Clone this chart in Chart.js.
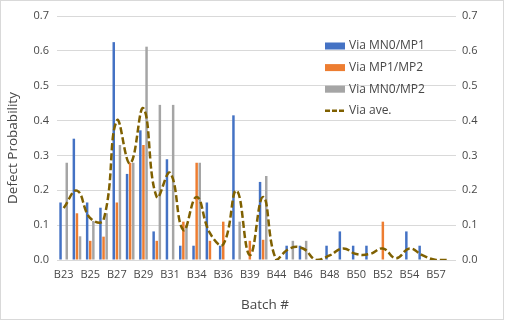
<!DOCTYPE html>
<html>
<head>
<meta charset="utf-8">
<script src="https://cdn.jsdelivr.net/npm/chart.js@4"></script>
<style>
  html, body { margin: 0; padding: 0; background: #fff; }
  #wrap { width: 505px; height: 322px; }
</style>
</head>
<body>
<div id="wrap"><canvas id="defect-chart" width="505" height="322"></canvas></div>
<script>
var batches = ["B23", "B24", "B25", "B26", "B27", "B28", "B29", "B30", "B31", "B33",
               "B34", "B35", "B36", "B38", "B39", "B40", "B44", "B45", "B46", "B47",
               "B48", "B49", "B50", "B51", "B52", "B53", "B54", "B56", "B57", "B58"];

var viaMN0MP1 = [0.165, 0.348, 0.165, 0.15, 0.625, 0.247, 0.372, 0.082, 0.289, 0.041,
                 0.041, 0.165, 0.041, 0.415, 0, 0.224, 0, 0.041, 0.041, 0,
                 0.041, 0.082, 0.041, 0.041, 0, 0, 0.082, 0.041, 0, 0];

var viaMP1MP2 = [0, 0.134, 0.055, 0.067, 0.165, 0.279, 0.33, 0.055, 0, 0.11,
                 0.279, 0.055, 0.11, 0, 0.055, 0.058, 0, 0, 0, 0,
                 0, 0, 0, 0, 0.11, 0, 0, 0, 0, 0];

var viaMN0MP2 = [0.279, 0.068, 0.112, 0.134, 0.33, 0.279, 0.612, 0.445, 0.445, 0.1,
                 0.279, 0, 0, 0.11, 0, 0.241, 0, 0.055, 0.055, 0,
                 0, 0, 0, 0, 0, 0, 0, 0, 0, 0];

var viaAve = [0.149, 0.199, 0.12, 0.115, 0.4, 0.277, 0.435, 0.181, 0.25, 0.086,
              0.181, 0.077, 0.045, 0.199, 0.014, 0.181, 0, 0.033, 0.033, 0,
              0.013, 0.033, 0.017, 0.017, 0.033, 0.005, 0.033, 0.013, 0, 0];

var yTicks = [0, 0.1, 0.2, 0.3, 0.4, 0.5, 0.6, 0.7];

var fontFamily = "'Open Sans', 'Noto Sans', sans-serif";
var tickFont = { family: fontFamily, size: 11 };
var textColor = "#474747";

// white background, light frame, and the two axis titles
var framePlugin = {
    id: "frame",
    beforeDraw: function (chart) {
        var ctx = chart.ctx;
        ctx.save();
        ctx.fillStyle = "#fff";
        ctx.fillRect(0, 0, chart.width, chart.height);
        ctx.strokeStyle = "#d9d9d9";
        ctx.lineWidth = 1;
        ctx.strokeRect(0.5, 0.5, 503, 319);
        ctx.restore();
    },
    afterDraw: function (chart) {
        var ctx = chart.ctx;
        ctx.save();
        ctx.fillStyle = textColor;
        ctx.font = "13.5px " + fontFamily;
        ctx.textAlign = "center";
        ctx.textBaseline = "middle";
        ctx.fillText("Batch #", 265, 305);
        ctx.translate(13, 148);
        ctx.rotate(-Math.PI / 2);
        ctx.fillText("Defect Probability", 0, 0);
        ctx.restore();
    },
};

// legend drawn inside the plot, top right, one item per row
var innerLegend = {
    id: "innerLegend",
    afterDraw: function (chart) {
        var ctx = chart.ctx;
        var x = 325, y = 46, rowH = 21.6;
        ctx.save();
        ctx.font = "12px " + fontFamily;
        ctx.textBaseline = "middle";
        chart.data.datasets.forEach(function (ds, i) {
            var cy = y + i * rowH;
            if (ds.type === "line") {
                ctx.strokeStyle = ds.borderColor;
                ctx.lineWidth = 2.5;
                ctx.setLineDash([5, 2]);
                ctx.beginPath();
                ctx.moveTo(x, cy);
                ctx.lineTo(x + 20, cy);
                ctx.stroke();
                ctx.setLineDash([]);
            } else {
                ctx.fillStyle = ds.backgroundColor;
                ctx.fillRect(x, cy - 3.5, 20, 7);
            }
            ctx.fillStyle = textColor;
            ctx.fillText(ds.label, x + 24, cy);
        });
        ctx.restore();
    },
};

var context = document.getElementById("defect-chart").getContext("2d");

var myChart = new Chart(context, {
    type: "bar",
    data: {
        labels: batches,
        datasets: [
            {
                label: "Via MN0/MP1",
                data: viaMN0MP1,
                backgroundColor: "#4472C4",
                order: 1,
            },
            {
                label: "Via MP1/MP2",
                data: viaMP1MP2,
                backgroundColor: "#ED7D31",
                order: 1,
            },
            {
                label: "Via MN0/MP2",
                data: viaMN0MP2,
                backgroundColor: "#A5A5A5",
                order: 1,
            },
            {
                type: "line",
                label: "Via ave.",
                data: viaAve,
                borderColor: "#7F6000",
                borderWidth: 2.5,
                borderDash: [7, 3],
                pointRadius: 0,
                tension: 0.45,
                fill: false,
                order: 0,
            },
        ],
    },
    options: {
        responsive: false,
        animation: false,
        devicePixelRatio: 1,
        datasets: {
            bar: { categoryPercentage: 0.7, barPercentage: 0.8 },
        },
        layout: { padding: { top: 16, left: 0, right: 0, bottom: 0 } },
        plugins: {
            legend: { display: false },
            tooltip: { enabled: false },
        },
        scales: {
            x: {
                grid: { display: false, drawTicks: false },
                border: { display: false },
                ticks: {
                    autoSkip: false,
                    maxRotation: 0,
                    padding: 8,
                    color: textColor,
                    font: tickFont,
                    callback: function (val, i) {
                        return i % 2 === 0 ? this.getLabelForValue(val) : "";
                    },
                },
                afterFit: function (scale) { scale.height = 62; },
            },
            y: {
                position: "left",
                min: 0,
                max: 0.7,
                afterBuildTicks: function (scale) {
                    scale.ticks = yTicks.map(function (v) { return { value: v }; });
                },
                grid: { color: "#d9d9d9", drawTicks: false },
                border: { display: false },
                ticks: {
                    padding: 8,
                    color: textColor,
                    font: tickFont,
                    callback: function (v) { return v.toFixed(1); },
                },
                afterFit: function (scale) { scale.width = 57; },
            },
            y2: {
                position: "right",
                min: 0,
                max: 0.7,
                afterBuildTicks: function (scale) {
                    scale.ticks = yTicks.map(function (v) { return { value: v }; });
                },
                grid: { drawOnChartArea: false, drawTicks: false },
                border: { display: false },
                ticks: {
                    padding: 6,
                    color: textColor,
                    font: tickFont,
                    callback: function (v) { return v.toFixed(1); },
                },
                afterFit: function (scale) { scale.width = 49; },
            },
        },
    },
    plugins: [framePlugin, innerLegend],
});
</script>
</body>
</html>
